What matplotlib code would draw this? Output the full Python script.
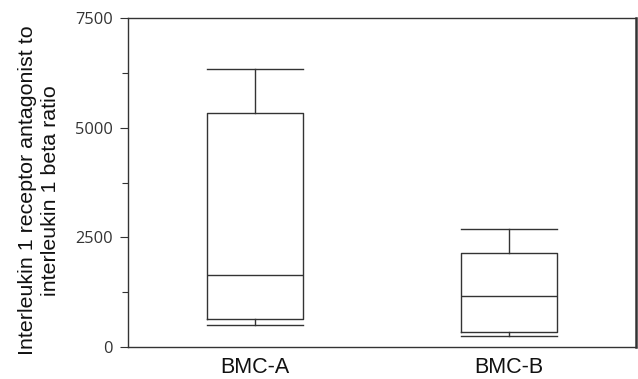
import matplotlib
matplotlib.use("Agg")
import matplotlib.pyplot as plt
from matplotlib.ticker import MultipleLocator

# box summary per group: lower whisker, Q1, median, Q3, upper whisker
groups = ["BMC-A", "BMC-B"]
whisker_low = [494, 250]
q1 = [631, 335]
median = [1634, 1155]
q3 = [5341, 2143]
whisker_high = [6337, 2690]

line_col = "#333333"

stats = []
for i, name in enumerate(groups):
    stats.append({
        "label": name,
        "whislo": whisker_low[i],
        "q1": q1[i],
        "med": median[i],
        "q3": q3[i],
        "whishi": whisker_high[i],
        "fliers": [],
    })

fig = plt.figure(figsize=(6.38, 3.79), dpi=100)
ax = fig.add_axes([0.2006, 0.0844, 0.7963, 0.8681])

lp = dict(color=line_col, linewidth=1.0)
ax.bxp(stats, positions=[1, 2], widths=0.38, capwidths=0.38,
       showfliers=False,
       boxprops=lp, medianprops=lp, whiskerprops=lp, capprops=lp)

ax.set_xlim(0.5, 2.5)
ax.set_ylim(0, 7500)
ax.yaxis.set_major_locator(MultipleLocator(2500))
ax.yaxis.set_minor_locator(MultipleLocator(1250))

for s in ax.spines.values():
    s.set_color(line_col)
    s.set_linewidth(1.0)
ax.spines["right"].set_linewidth(1.8)

ax.tick_params(axis="y", which="major", length=6, width=0.8, color=line_col,
               pad=5, labelsize=11.8, labelcolor="#333333")
ax.tick_params(axis="y", which="minor", length=4, width=0.8, color=line_col)
for lab in ax.get_yticklabels():
    lab.set_fontfamily("Open Sans")

ax.tick_params(axis="x", length=0, pad=7)
ax.set_xticks([1, 2])
ax.set_xticklabels(groups, fontsize=15.5, fontfamily="Liberation Sans", color="#111111")

# y title placed in figure coords, two centred lines
fig.text(0.061, 0.497,
         "Interleukin 1 receptor antagonist to\ninterleukin 1 beta ratio",
         rotation=90, ha="center", va="center", multialignment="center",
         fontsize=15.4, fontfamily="Liberation Sans", color="#111111",
         linespacing=1.3)

fig.savefig("out.png", dpi=100)
